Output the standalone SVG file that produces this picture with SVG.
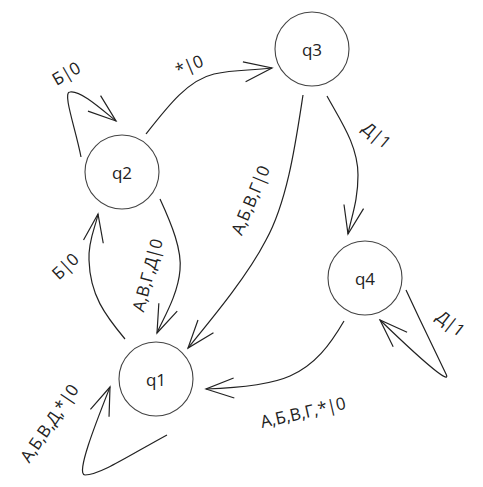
<svg xmlns="http://www.w3.org/2000/svg" width="483" height="487" viewBox="0 0 483 487">
<defs>
<style>
.node circle{fill:#fff;stroke:#444;stroke-width:1.1}
.node text{font-family:"Open Sans","Noto Sans",sans-serif;font-size:17px;fill:#222;text-anchor:middle;dominant-baseline:central}
.edges path{fill:none;stroke:#222;stroke-width:1.2;marker-end:url(#arr)}
.lbl text{font-family:"Open Sans","Noto Sans",sans-serif;font-size:17px;fill:#222;text-anchor:middle;dominant-baseline:central}
</style>
<marker id="arr" markerUnits="userSpaceOnUse" viewBox="-30 -12 32 24" refX="0" refY="0" markerWidth="32" markerHeight="24" orient="auto">
<path d="M-28,-10 L0,0 L-28,10" fill="none" stroke="#222" stroke-width="1.2"/>
</marker>
</defs>
<rect width="483" height="487" fill="#fff"/>
<g class="edges" id="edges">
<path d="M81,157 C76,130 62,92 70,92 C80,90 100,108 116,121"/>
<path d="M146,134 C168,106 188,80 214,74 C236,69 250,71 272,68"/>
<path d="M303,95 C296,140 288,200 266,240 C248,275 215,315 188,348"/>
<path d="M160,199 C172,225 182,250 180,270 C178,295 163,319 157,333"/>
<path d="M125,339 C105,315 90,295 89,260 C88,240 96,226 98,214"/>
<path d="M344,321 C330,345 315,365 290,376 C270,385 235,388 206,389"/>
<path d="M327,96 C340,120 358,145 358,175 C358,200 352,215 348,234"/>
<path d="M406,290 C420,320 440,362 446,374 C450,382 440,378 380,320"/>
<path d="M167,435 C130,455 100,475 85,475 C75,475 97,420 110,387"/>
</g>
<g class="lbl" id="labels">
<text transform="translate(66,73) rotate(-30)">Б|0</text>
<text transform="translate(189,65) rotate(-23)">*|0</text>
<text transform="translate(250,200) rotate(-67)">А,Б,В,Г|0</text>
<text transform="translate(147,275) rotate(-75)">А,В,Г,Д|0</text>
<text transform="translate(377,135) rotate(40)">Д|1</text>
<text transform="translate(451,323) rotate(38)">Д|1</text>
<text transform="translate(303,412) rotate(-13)">А,Б,В,Г,*|0</text>
<text transform="translate(49,423) rotate(-56)">А,Б,В,Д,*|0</text>
<text transform="translate(65,266) rotate(-43)">Б|0</text>
</g>
<g class="node" id="q1"><circle cx="156" cy="379" r="37"/><text x="156" y="379">q1</text></g>
<g class="node" id="q2"><circle cx="122" cy="172" r="37"/><text x="122" y="172">q2</text></g>
<g class="node" id="q3"><circle cx="312" cy="49" r="37"/><text x="312" y="49">q3</text></g>
<g class="node" id="q4"><circle cx="365" cy="278" r="37"/><text x="365" y="278">q4</text></g>
</svg>
